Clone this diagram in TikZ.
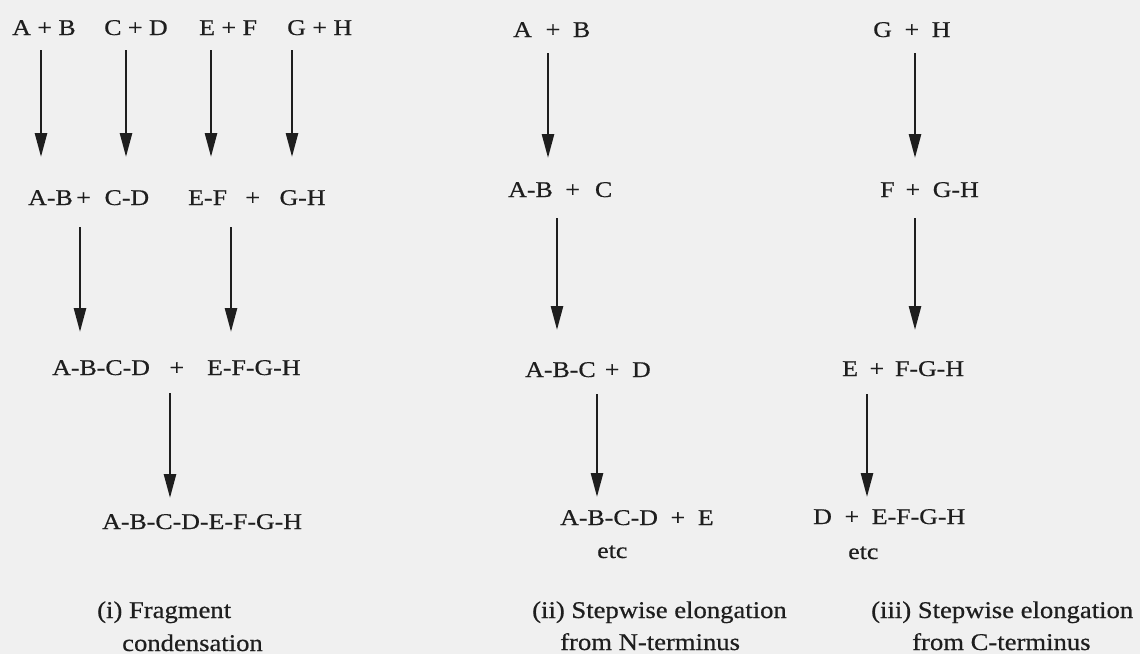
\documentclass[tikz,border=0pt]{standalone}
\usepackage{fontspec}
\setmainfont{Liberation Serif}
\newfontfamily\inkfont[FakeBold=0.5]{Liberation Serif}
\usetikzlibrary{arrows.meta}
\definecolor{paper}{HTML}{F0F0F0}
\definecolor{ink}{HTML}{1E1E1E}
\begin{document}
\begin{tikzpicture}[x=1pt,y=-1pt,
  lbl/.style={font=\inkfont\fontsize{22.5}{26}\selectfont, text=ink, inner sep=0pt, xscale=1.15, anchor=base west},
  captxt/.style={font=\inkfont\fontsize{24}{28}\selectfont, text=ink, inner sep=0pt, xscale=1.11, anchor=base west},
  arr/.style={draw=ink, line width=2.6pt, -{Triangle[length=24pt,width=12pt]}}]
\fill[paper] (0,0) rectangle (1140,654);
\useasboundingbox (0,0) rectangle (1140,654);

% ---- (i) fragment condensation
\node[lbl] (l1a) at (12,35) {A + B};
\node[lbl] (l1b) at (104,35) {C + D};
\node[lbl] (l1c) at (199,35) {E + F};
\node[lbl] (l1d) at (287,35) {G + H};
\node[lbl] (l2a) at (28,205) {A-B\hspace{3pt}+\hspace{12pt}C-D};
\node[lbl] (l2b) at (188,205) {E-F\hspace{16pt}+\hspace{17pt}G-H};
\node[lbl] (l3) at (52,375) {A-B-C-D\hspace{17pt}+\hspace{20pt}E-F-G-H};
\node[lbl] (l4) at (102,529) {A-B-C-D-E-F-G-H};
\node[captxt] (lc) at (97,618) {(i) Fragment};
\node[captxt] (lc2) at (122,651) {condensation};

% ---- (ii) N-terminus
\node[lbl] (m1) at (513,37) {A\hspace{12pt}+\hspace{11pt}B};
\node[lbl] (m2) at (508,197) {A-B\hspace{11pt}+\hspace{13pt}C};
\node[lbl] (m3) at (525,377) {A-B-C\hspace{8pt}+\hspace{11pt}D};
\node[lbl] (m4) at (560,525) {A-B-C-D\hspace{11pt}+\hspace{11pt}E};
\node[lbl] (metc) at (597,558) {etc};
\node[captxt] (mc) at (532,618) {(ii) Stepwise elongation};
\node[captxt] (mc2) at (560,650) {from N-terminus};

% ---- (iii) C-terminus
\node[lbl] (r1) at (873,37) {G\hspace{11pt}+\hspace{11pt}H};
\node[lbl] (r2) at (880,197) {F\hspace{9.5pt}+\hspace{11pt}G-H};
\node[lbl] (r3) at (842,376) {E\hspace{10pt}+\hspace{9.5pt}F-G-H};
\node[lbl] (r4) at (813,524) {D\hspace{11pt}+\hspace{11pt}E-F-G-H};
\node[lbl] (retc) at (848,559) {etc};
\node[captxt] (rc) at (871,618) {(iii) Stepwise elongation};
\node[captxt] (rc2) at (912,650) {from C-terminus};

% ---- arrow end points
\coordinate (a1s) at (41,50);   \coordinate (a1e) at (41,157);
\coordinate (a2s) at (126,50);  \coordinate (a2e) at (126,157);
\coordinate (a3s) at (211,50);  \coordinate (a3e) at (211,157);
\coordinate (a4s) at (292,50);  \coordinate (a4e) at (292,157);
\coordinate (a5s) at (80,227);  \coordinate (a5e) at (80,332);
\coordinate (a6s) at (231,227); \coordinate (a6e) at (231,332);
\coordinate (a7s) at (170,393); \coordinate (a7e) at (170,498);
\coordinate (b1s) at (548,53);  \coordinate (b1e) at (548,158);
\coordinate (b2s) at (557,218); \coordinate (b2e) at (557,330);
\coordinate (b3s) at (597,394); \coordinate (b3e) at (597,497);
\coordinate (c1s) at (915,53);  \coordinate (c1e) at (915,158);
\coordinate (c2s) at (915,218); \coordinate (c2e) at (915,330);
\coordinate (c3s) at (867,394); \coordinate (c3e) at (867,497);

\foreach \a in {a1,a2,a3,a4,a5,a6,a7,b1,b2,b3,c1,c2,c3}
  \draw[arr] (\a s) -- (\a e);
\end{tikzpicture}
\end{document}
